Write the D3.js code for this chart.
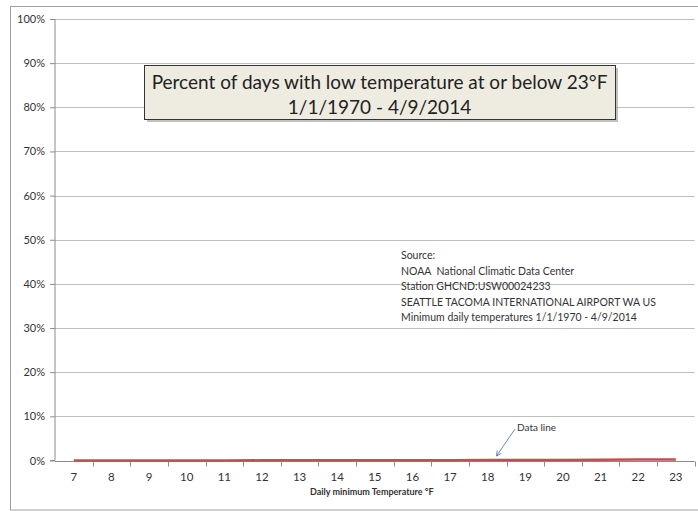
<!DOCTYPE html>
<html>
<head>
<meta charset="utf-8">
<script src="https://cdn.jsdelivr.net/npm/d3@7"></script>
<style>
  html, body { margin: 0; padding: 0; background: #fff; }
  svg { display: block; font-family: Lato, "Liberation Sans", sans-serif; }
</style>
</head>
<body>
<svg id="chart" width="698" height="511"></svg>
<script>
// ---- data ----
const categories = [7, 8, 9, 10, 11, 12, 13, 14, 15, 16, 17, 18, 19, 20, 21, 22, 23];
const percentValues = [0.0001, 0.0001, 0.0001, 0.0002, 0.0002, 0.0003, 0.0003, 0.0004, 0.0005, 0.0006, 0.0007, 0.0009, 0.0011, 0.0013, 0.0016, 0.0020, 0.0025];
const yTicks = [0, 0.1, 0.2, 0.3, 0.4, 0.5, 0.6, 0.7, 0.8, 0.9, 1.0];
const titleLines = ["Percent of days with low temperature at or below 23\u00B0F", "1/1/1970 - 4/9/2014"];
const sourceLines = [
  "Source:",
  "NOAA \u00A0National Climatic Data Center",
  "Station GHCND:USW00024233",
  "SEATTLE TACOMA INTERNATIONAL AIRPORT WA US",
  "Minimum daily temperatures 1/1/1970 - 4/9/2014"
];
const xAxisTitle = "Daily minimum Temperature \u00B0F";
const annotationText = "Data line";

// ---- layout ----
const svg = d3.select("#chart");
const plot = { left: 55, right: 694.7, top: 19, bottom: 460.5 };

// outer chart border
svg.append("rect")
  .attr("x", 10.5).attr("y", 6.5).attr("width", 700).attr("height", 503.5)
  .attr("fill", "#fff").attr("stroke", "#a0a0a0").attr("stroke-width", 1);

const x = d3.scaleBand().domain(categories).range([plot.left, plot.right]).padding(0);
const y = d3.scaleLinear().domain([0, 1]).range([plot.bottom, plot.top]);

// gridlines
svg.append("g").selectAll("line").data(yTicks.filter(d => d > 0)).join("line")
  .attr("x1", plot.left).attr("x2", plot.right)
  .attr("y1", d => Math.round(y(d)) + 0.5).attr("y2", d => Math.round(y(d)) + 0.5)
  .attr("stroke", "#bfbfbf").attr("stroke-width", 1.2);

// y axis
const yAxis = d3.axisLeft(y).tickValues(yTicks).tickFormat(d3.format(".0%")).tickSize(5).tickPadding(5);
const gy = svg.append("g").attr("transform", `translate(${plot.left},0)`).call(yAxis);
gy.select(".domain").attr("stroke", "#8c8c8c").attr("d", `M-5,${plot.bottom}H0V${plot.top}`);
gy.selectAll(".tick line").attr("stroke", "#8c8c8c");
gy.selectAll(".tick text").attr("font-size", 11).attr("fill", "#333").attr("font-family", "Lato, sans-serif");

// x axis (category, ticks between categories)
const gx = svg.append("g").attr("transform", `translate(0,${Math.round(plot.bottom) + 0.5})`);
gx.append("line").attr("x1", plot.left).attr("x2", plot.right).attr("y1", 0).attr("y2", 0)
  .attr("stroke", "#8c8c8c");
const boundaries = categories.map(c => x(c)).concat([plot.right]);
gx.selectAll("line.tk").data(boundaries.slice(1)).join("line").attr("class", "tk")
  .attr("x1", d => Math.round(d) + 0.5).attr("x2", d => Math.round(d) + 0.5)
  .attr("y1", 0).attr("y2", 5).attr("stroke", "#8c8c8c");
gx.selectAll("text").data(categories).join("text")
  .attr("x", d => x(d) + x.bandwidth() / 2).attr("y", 19)
  .attr("text-anchor", "middle").attr("font-size", 11.5).attr("fill", "#333")
  .text(d => d);

// x axis title
svg.append("text").attr("x", (plot.left + plot.right) / 2 - 3).attr("y", 495)
  .attr("text-anchor", "middle").attr("font-size", 9).attr("font-weight", "bold").attr("fill", "#333")
  .text(xAxisTitle);

// data line
const line = d3.line().x((d, i) => x(categories[i]) + x.bandwidth() / 2).y(d => y(d));
svg.append("path").datum(percentValues).attr("d", line)
  .attr("fill", "none").attr("stroke", "#c0504d").attr("stroke-width", 2.5);

// source text
const src = svg.append("text").attr("font-size", 10.5).attr("fill", "#333");
sourceLines.forEach((t, i) => {
  src.append("tspan").attr("x", 401).attr("y", 259 + i * 15.6).text(t);
});

// title box
const tb = { x: 144, y: 65, w: 471, h: 54 };
svg.append("rect").attr("x", tb.x + 3).attr("y", tb.y + 3).attr("width", tb.w).attr("height", tb.h)
  .attr("fill", "#9a9a9a").attr("opacity", 0.6);
svg.append("rect").attr("x", tb.x + 0.5).attr("y", tb.y + 0.5).attr("width", tb.w).attr("height", tb.h)
  .attr("fill", "#eeece1").attr("stroke", "#333").attr("stroke-width", 1);
const tt = svg.append("text").attr("font-size", 19).attr("fill", "#222").attr("text-anchor", "middle");
titleLines.forEach((t, i) => {
  tt.append("tspan").attr("x", tb.x + tb.w / 2).attr("y", 89 + i * 25).text(t);
});

// annotation
const defs = svg.append("defs");
defs.append("marker").attr("id", "arr").attr("viewBox", "0 0 10 10").attr("refX", 9).attr("refY", 5)
  .attr("markerWidth", 7).attr("markerHeight", 7).attr("orient", "auto")
  .append("path").attr("d", "M1,1L9,5L1,9").attr("fill", "none").attr("stroke", "#4f81bd").attr("stroke-width", 1.3);
svg.append("line").attr("x1", 515).attr("y1", 429).attr("x2", 496.5).attr("y2", 456)
  .attr("stroke", "#4f81bd").attr("stroke-width", 0.9).attr("marker-end", "url(#arr)");
svg.append("text").attr("x", 517).attr("y", 431).attr("font-size", 10).attr("fill", "#333").text(annotationText);
</script>
</body>
</html>
